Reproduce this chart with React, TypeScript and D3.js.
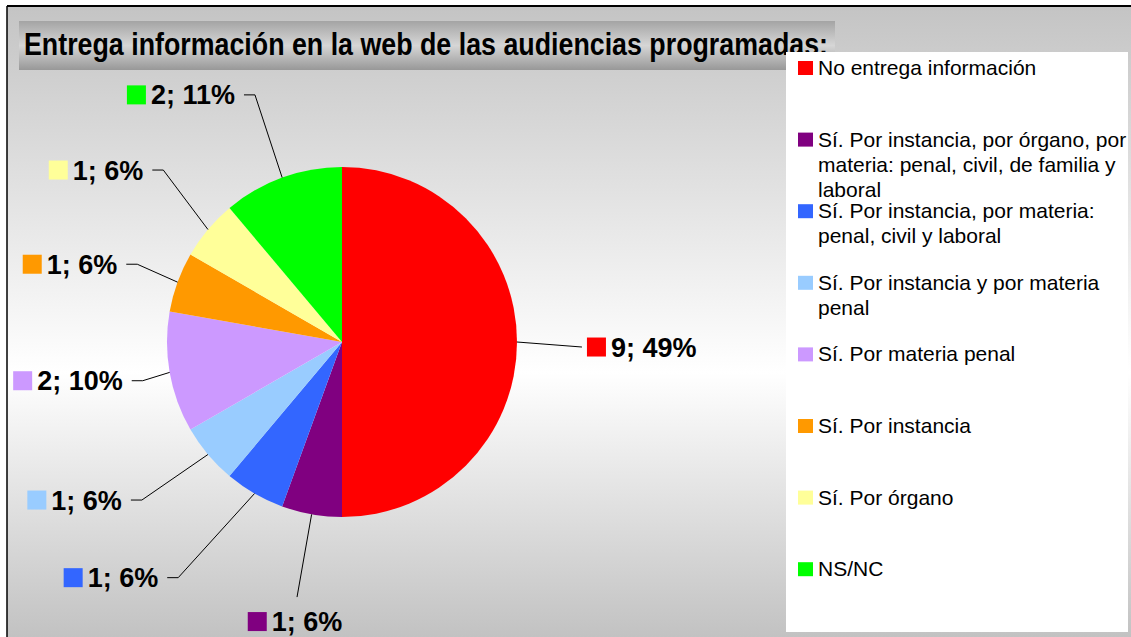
import React, { useEffect, useRef } from "react";
import * as d3 from "d3";

const title = "Entrega información en la web de las audiencias programadas:";
const categories = [
  "No entrega información",
  "Sí. Por instancia, por órgano, por materia: penal, civil, de familia y laboral",
  "Sí. Por instancia, por materia: penal, civil y laboral",
  "Sí. Por instancia y por materia penal",
  "Sí. Por materia penal",
  "Sí. Por instancia",
  "Sí. Por órgano",
  "NS/NC",
];
const counts = [9, 1, 1, 1, 2, 1, 1, 2];
const percents = [49, 6, 6, 6, 10, 6, 6, 11];
const colors = ["#FF0000", "#800080", "#3366FF", "#99CCFF", "#CC99FF", "#FF9900", "#FFFF99", "#00FF00"];

// label placement (layout): radius of leader elbow and angle shift in degrees
const labelRadius = [240, 259, 287, 255, 203, 219, 248, 262];
const labelShift = [1.2, 0, 4.8, 1.7, -1, 0.8, 3.9, 0.6];

const W = 1131;
const H = 637;
const FONT = "'Liberation Sans', Arial, Helvetica, sans-serif";

export default function App() {
  const ref = useRef<SVGSVGElement | null>(null);

  useEffect(() => {
    const svg = d3.select(ref.current);
    svg.selectAll("*").remove();
    const defs = svg.append("defs");

    const bg = defs.append("linearGradient").attr("id", "bgGrad").attr("x1", 0).attr("y1", 0).attr("x2", 0).attr("y2", 1);
    bg.append("stop").attr("offset", "0%").attr("stop-color", "#c4c4c4");
    bg.append("stop").attr("offset", "58%").attr("stop-color", "#ffffff");
    bg.append("stop").attr("offset", "100%").attr("stop-color", "#c2c2c2");

    const tg = defs.append("linearGradient").attr("id", "titleGrad").attr("x1", 0).attr("y1", 0).attr("x2", 0).attr("y2", 1);
    tg.append("stop").attr("offset", "0%").attr("stop-color", "#a4a4a4");
    tg.append("stop").attr("offset", "50%").attr("stop-color", "#d6d6d6");
    tg.append("stop").attr("offset", "100%").attr("stop-color", "#989898");

    // clip the title where the legend box covers it
    defs.append("clipPath").attr("id", "titleClip")
      .append("path")
      .attr("d", "M0,0H1131V52H786V80H0Z");

    svg.append("rect").attr("width", W).attr("height", H).attr("fill", "#fff");
    svg.append("rect").attr("x", 7).attr("y", 6).attr("width", W - 7).attr("height", H - 6).attr("fill", "url(#bgGrad)");
    svg.append("line").attr("x1", 7).attr("y1", 6).attr("x2", W).attr("y2", 6).attr("stroke", "#000").attr("stroke-width", 2);
    svg.append("line").attr("x1", 7).attr("y1", 6).attr("x2", 7).attr("y2", H).attr("stroke", "#000").attr("stroke-width", 1.5);

    // title
    const tgG = svg.append("g").attr("clip-path", "url(#titleClip)");
    tgG.append("rect").attr("x", 19).attr("y", 21).attr("width", 816).attr("height", 49).attr("fill", "url(#titleGrad)");
    tgG.append("text")
      .attr("x", 24).attr("y", 55)
      .attr("font-family", FONT).attr("font-weight", "bold").attr("font-size", 32)
      .attr("textLength", 804).attr("lengthAdjust", "spacingAndGlyphs")
      .attr("fill", "#000")
      .text(title);

    // pie
    const cx = 342, cy = 342, R = 175;
    const pie = d3.pie<number>().sort(null).value((d) => d).startAngle(0).endAngle(2 * Math.PI);
    const arcs = pie(counts);
    const arc = d3.arc<d3.PieArcDatum<number>>().innerRadius(0).outerRadius(R);
    const g = svg.append("g").attr("transform", `translate(${cx},${cy})`);
    g.selectAll("path.slice").data(arcs).join("path")
      .attr("class", "slice")
      .attr("d", arc as any)
      .attr("fill", (_d, i) => colors[i]);

    // labels
    const lg = svg.append("g");
    arcs.forEach((a, i) => {
      const mid = (a.startAngle + a.endAngle) / 2;
      const sx = cx + R * Math.sin(mid);
      const sy = cy - R * Math.cos(mid);
      const la = mid + (labelShift[i] * Math.PI) / 180;
      const ex = cx + labelRadius[i] * Math.sin(la);
      const ey = cy - labelRadius[i] * Math.cos(la);
      const s = Math.sin(la);
      const label = `${counts[i]}; ${percents[i]}%`;
      const txt = lg.append("text")
        .attr("font-family", FONT).attr("font-weight", "bold").attr("font-size", 27)
        .attr("fill", "#000").text(label);
      const w = (txt.node() as SVGTextElement).getComputedTextLength();
      let pathD = `M${sx},${sy}L${ex},${ey}`;
      let sqX = 0, sqY = ey - 9.5, tx = 0, ty = ey + 9.5;
      if (Math.abs(s) < 0.25) {
        const total = 19 + 5 + w;
        sqX = ex - total / 2 - 2;
        sqY = ey + 15;
        tx = sqX + 24;
        ty = sqY + 19;
      } else if (s > 0) {
        sqX = ex + 5;
        tx = sqX + 24;
      } else {
        const lx = ex - 11;
        pathD += `L${lx},${ey}`;
        const tEnd = lx - 9;
        tx = tEnd - w;
        sqX = tx - 5 - 19;
      }
      lg.append("path").attr("d", pathD).attr("fill", "none").attr("stroke", "#000").attr("stroke-width", 1);
      lg.append("rect").attr("x", sqX).attr("y", sqY).attr("width", 19).attr("height", 19).attr("fill", colors[i]);
      txt.attr("x", tx).attr("y", ty).raise();
    });

    // legend
    const leg = svg.append("g");
    leg.append("rect").attr("x", 786).attr("y", 52).attr("width", 342).attr("height", 580).attr("fill", "#fff");
    const step = 71.6;
    const lineH = 25;
    categories.forEach((c, i) => {
      const center = 68 + i * step;
      leg.append("rect").attr("x", 798).attr("y", center - 7).attr("width", 15).attr("height", 14).attr("fill", colors[i]);
      const t = leg.append("text")
        .attr("x", 818).attr("y", center + 7)
        .attr("font-family", FONT).attr("font-size", 21).attr("fill", "#000");
      const words = c.split(" ");
      let line: string[] = [];
      let lineNo = 0;
      let tspan = t.append("tspan").attr("x", 818).attr("y", center + 7);
      words.forEach((word) => {
        line.push(word);
        tspan.text(line.join(" "));
        if ((tspan.node() as SVGTSpanElement).getComputedTextLength() > 314 && line.length > 1) {
          line.pop();
          tspan.text(line.join(" "));
          line = [word];
          lineNo += 1;
          tspan = t.append("tspan").attr("x", 818).attr("y", center + 7 + lineNo * lineH).text(word);
        }
      });
    });
  }, []);

  return (
    <svg
      ref={ref}
      width={W}
      height={H}
      style={{ position: "absolute", left: 0, top: 0, display: "block" }}
    />
  );
}
